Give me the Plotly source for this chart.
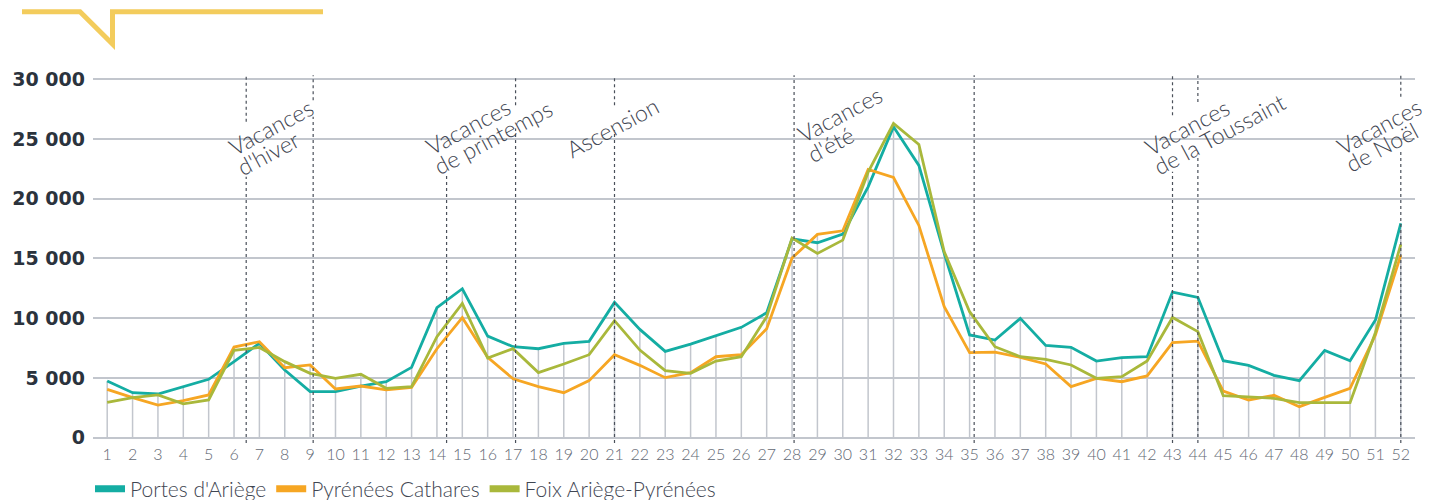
import plotly.graph_objects as go

# ---------------- data ----------------
weeks = list(range(1, 53))

portes = [4740, 3760, 3650, 4270, 4880, 6360, 7890, 5660, 3850, 3850,
          4320, 4680, 5880, 10870, 12460, 8500, 7610, 7440, 7890, 8060,
          11320, 9060, 7220, 7830, 8560, 9230, 10450, 16640, 16310, 17030,
          20990, 26010, 22780, 15420, 8590, 8170, 9980, 7720, 7560, 6410,
          6690, 6770, 12180, 11740, 6440, 6050, 5210, 4770, 7300, 6440,
          9840, 17930]

cathares = [4040, 3350, 2730, 3090, 3570, 7580, 8030, 5850, 6080, 4070,
            4320, 3990, 4210, 7440, 10040, 6720, 4930, 4270, 3760, 4770,
            6940, 6050, 5020, 5440, 6770, 6940, 9120, 15030, 17010, 17310,
            22440, 21770, 17760, 10960, 7110, 7160, 6720, 6160, 4270, 4960,
            4680, 5160, 7950, 8080, 3900, 3150, 3540, 2590, 3370, 4130,
            8600, 15280]

foix = [2960, 3350, 3570, 2820, 3150, 7300, 7550, 6360, 5380, 4960,
        5300, 4130, 4270, 8450, 11240, 6660, 7440, 5440, 6160, 6940,
        9790, 7330, 5600, 5380, 6410, 6770, 10120, 16700, 15420, 16530,
        22220, 26290, 24530, 15560, 10540, 7610, 6770, 6550, 6080, 4960,
        5100, 6410, 10060, 8870, 3510, 3370, 3290, 2930, 2930, 2930,
        8800, 16170]

series_names = ["Portes d'Ariège", "Pyrénées Cathares", "Foix Ariège-Pyrénées"]

y_tickvals = [0, 5000, 10000, 15000, 20000, 25000, 30000]
y_ticktext = ["0", "5 000", "10 000", "15 000", "20 000", "25 000", "30 000"]

# holiday markers (week positions)
holiday_weeks = [6.48, 9.12, 14.38, 17.1, 21.0, 28.08, 35.18, 43.0, 44.0, 52.0]

# holiday label lines with their centre (week, value)
label_lines = ["Vacances", "d'hiver",
               "Vacances", "de printemps",
               "Ascension",
               "Vacances", "d'été",
               "Vacances", "de la Toussaint",
               "Vacances", "de Noël"]
label_weeks = [7.45, 7.35,
               15.24, 16.22,
               20.94,
               29.89, 29.52,
               43.56, 44.84,
               51.15, 51.24]
label_values = [26010, 23790,
                26100, 25130,
                26010,
                27080, 24590,
                26010, 25400,
                26100, 24290]

# ---------------- styles ----------------
colors = ["#14ada3", "#f6a623", "#a9b83b"]
grid_col = "#c2c6cd"
text_col = "#3f4652"
Y_MIN, Y_MAX = -450, 30350
DOT_TOP = 30330
# gaps in dotted lines where labels sit (value ranges)
dot_segments = [
    [(26430, DOT_TOP), (Y_MIN, 21830)],
    [(28240, DOT_TOP), (Y_MIN, 26850)],
    [(Y_MIN, 21970)],
    [(27820, DOT_TOP), (Y_MIN, 25870)],
    [(27820, DOT_TOP), (Y_MIN, 25730)],
    [(Y_MIN, DOT_TOP)],
    [(Y_MIN, DOT_TOP)],
    [(26990, DOT_TOP), (Y_MIN, 22250)],
    [(28100, DOT_TOP), (Y_MIN, 23500)],
    [(28520, DOT_TOP), (Y_MIN, 24060)],
]

# page offset (body margin) and figure size
OFF = 8
W, H = 1439 - OFF, 500 - OFF
# plot area in screen pixels
SL, SR, ST, SB = 93, 1415, 75, 443
ML, MT = SL - OFF, ST - OFF
MR, MB = W - (SR - OFF), H - (SB - OFF)
PW, PH = W - ML - MR, H - MT - MB


def px_x(sx):
    return (sx - OFF - ML) / PW


def px_y(sy):
    return (H - MB - (sy - OFF)) / PH


fig = go.Figure()

# vertical drop lines from 0 to the week's max value
dx, dy = [], []
for w, a, b, c in zip(weeks, portes, cathares, foix):
    dx += [w, w, None]
    dy += [0, max(a, b, c), None]
fig.add_trace(go.Scatter(x=dx, y=dy, mode="lines", line=dict(color=grid_col, width=1.5),
                         hoverinfo="skip", showlegend=False))

for name, vals, col in zip(series_names, [portes, cathares, foix], colors):
    fig.add_trace(go.Scatter(x=weeks, y=vals, mode="lines", name=name,
                             line=dict(color=col, width=2.8), showlegend=False))

# legend entries
for name, col in zip(series_names, colors):
    fig.add_trace(go.Scatter(x=[None], y=[None], mode="lines", name=name,
                             line=dict(color=col, width=7)))

shapes = []
for xw, segs in zip(holiday_weeks, dot_segments):
    for y0, y1 in segs:
        shapes.append(dict(type="line", xref="x", yref="y", x0=xw, x1=xw, y0=y0, y1=y1,
                           line=dict(color="#4a505a", width=1.2, dash="dot"), layer="above"))

# decorative header line
pts = [(22, 11.7), (80, 11.7), (112.5, 44), (112.5, 11.7), (323, 11.7)]
path = "M" + " L".join(f"{px_x(a):.5f},{px_y(b):.5f}" for a, b in pts)
shapes.append(dict(type="path", xref="paper", yref="paper", path=path,
                   line=dict(color="#f3cc5c", width=5)))

annotations = []
for lab, xw, yv in zip(label_lines, label_weeks, label_values):
    annotations.append(dict(x=xw, y=yv, xref="x", yref="y", text=lab, showarrow=False,
                            textangle=-28, xanchor="center", yanchor="middle",
                            font=dict(family="Lato", size=23, color=text_col, weight=300)))

fig.update_layout(
    width=W, height=H,
    margin=dict(l=ML, r=MR, t=MT, b=MB, autoexpand=False),
    paper_bgcolor="white", plot_bgcolor="white",
    shapes=shapes, annotations=annotations,
    showlegend=True,
    legend=dict(orientation="h", x=px_x(90), xanchor="left", y=px_y(489), yanchor="middle",
                font=dict(family="Lato", size=21, color=text_col, weight=300),
                itemwidth=30, tracegroupgap=0, bgcolor="rgba(0,0,0,0)"),
    xaxis=dict(range=[0.44, 52.56], tickvals=weeks, ticktext=[str(w) for w in weeks],
               showgrid=False, zeroline=False, showline=False, ticks="",
               tickfont=dict(family="Lato", size=16, color="#626873", weight=300)),
    yaxis=dict(range=[Y_MIN, Y_MAX], tickvals=y_tickvals, ticktext=y_ticktext,
               showgrid=True, gridcolor=grid_col, gridwidth=1.5, zeroline=False,
               showline=False, ticks="", ticklabelstandoff=7,
               tickfont=dict(family="DejaVu Sans", size=19, color="#2b333d", weight=700)),
    hovermode=False,
)

fig.write_html("out.html")
